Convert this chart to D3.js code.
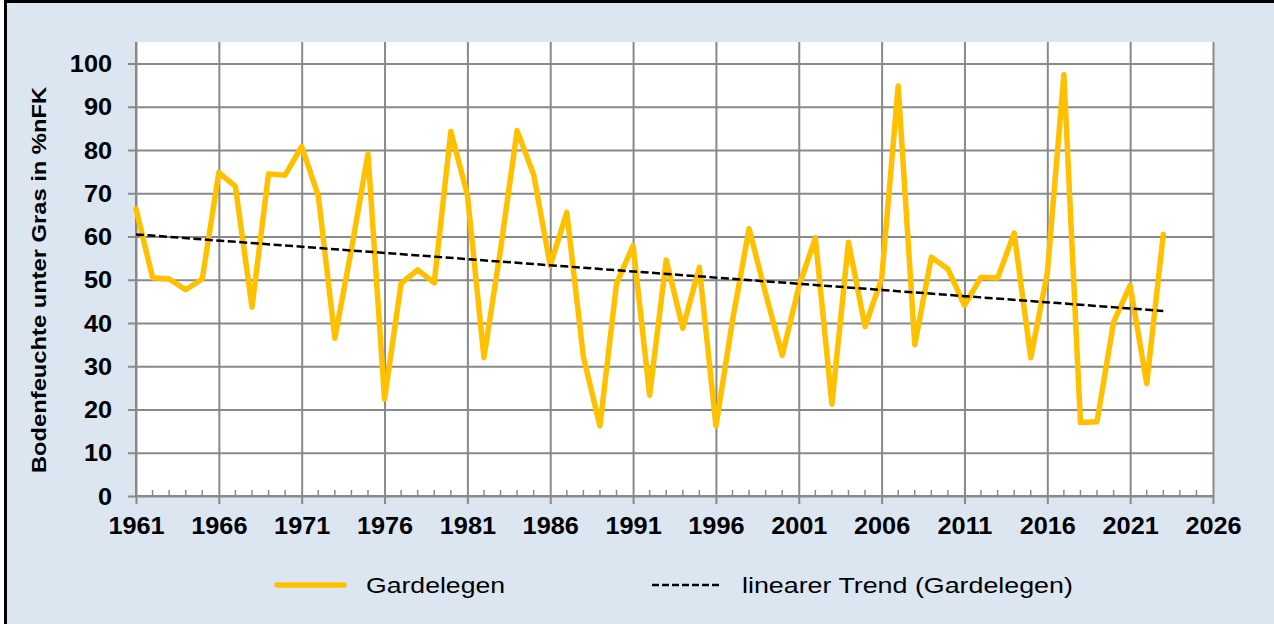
<!DOCTYPE html>
<html>
<head>
<meta charset="utf-8">
<script src="https://cdn.jsdelivr.net/npm/d3@7"></script>
<style>
  html, body { margin: 0; padding: 0; background: #ffffff; }
  svg { display: block; font-family: "Liberation Sans", Arial, sans-serif; }
</style>
</head>
<body>
<div id="chart"></div>
<script>
// data
var years = [1961, 1962, 1963, 1964, 1965, 1966, 1967, 1968, 1969, 1970,
  1971, 1972, 1973, 1974, 1975, 1976, 1977, 1978, 1979, 1980,
  1981, 1982, 1983, 1984, 1985, 1986, 1987, 1988, 1989, 1990,
  1991, 1992, 1993, 1994, 1995, 1996, 1997, 1998, 1999, 2000,
  2001, 2002, 2003, 2004, 2005, 2006, 2007, 2008, 2009, 2010,
  2011, 2012, 2013, 2014, 2015, 2016, 2017, 2018, 2019, 2020,
  2021, 2022, 2023];
var gardelegen = [66.4, 50.5, 50.2, 47.7, 50.2, 74.8, 71.6, 43.7, 74.5, 74.2,
  80.8, 69.5, 36.5, 57.0, 79.1, 22.4, 49.2, 52.3, 49.3, 84.3,
  69.7, 32.0, 57.0, 84.5, 74.3, 53.3, 65.6, 32.2, 16.2, 49.1,
  57.9, 23.3, 54.6, 38.8, 52.9, 16.2, 40.6, 61.8, 46.8, 32.5,
  48.3, 59.7, 21.2, 58.7, 39.2, 50.2, 94.8, 35.0, 55.2, 52.5,
  44.1, 50.6, 50.4, 60.8, 32.0, 51.5, 97.5, 17.0, 17.2, 40.2,
  48.7, 26.0, 60.5];
var trendYears = [1961, 2023];
var trendValues = [60.5, 42.8];
var xTicks = [1961, 1966, 1971, 1976, 1981, 1986, 1991, 1996, 2001, 2006, 2011, 2016, 2021, 2026];
var yTicks = [0, 10, 20, 30, 40, 50, 60, 70, 80, 90, 100];
var seriesNames = ["Gardelegen", "linearer Trend (Gardelegen)"];
var yTitle = "Bodenfeuchte unter Gras in %nFK";

var W = 1274, H = 624;
var pLeft = 136, pRight = 1213, pTop = 42, pBottom = 496;
var gridColor = "#898989", lineColor = "#FFC000";

var svg = d3.select("#chart").append("svg").attr("width", W).attr("height", H);
svg.append("rect").attr("x", 0).attr("y", 0).attr("width", W).attr("height", H).attr("fill", "#ffffff");
svg.append("rect").attr("x", 5.5).attr("y", 1.5).attr("width", W + 10).attr("height", H + 10)
  .attr("fill", "#DCE6F1").attr("stroke", "#000000").attr("stroke-width", 3);

var x = d3.scaleLinear().domain([1961, 2026]).range([pLeft, pRight]);
var y = d3.scaleLinear().domain([0, 105]).range([pBottom, pTop]);

svg.append("rect").attr("x", pLeft).attr("y", pTop).attr("width", pRight - pLeft).attr("height", pBottom - pTop)
  .attr("fill", "#ffffff");

// horizontal grid lines + y labels
var yAxis = svg.append("g").attr("transform", "translate(" + pLeft + ",0)")
  .call(d3.axisLeft(y).tickValues(yTicks).tickSize(-(pRight - pLeft)).tickSizeOuter(0).tickPadding(0));
yAxis.select(".domain").remove();
yAxis.selectAll(".tick line").attr("x1", -8).attr("stroke", gridColor).attr("stroke-width", 2);
yAxis.selectAll(".tick text").attr("x", -21.8).attr("dy", "0.35em")
  .attr("transform", "scale(1.1,1)").style("font-size", "23px").style("font-weight", "bold")
  .attr("fill", "#000000");

// vertical grid lines + x labels
var xAxis = svg.append("g").attr("transform", "translate(0," + pBottom + ")")
  .call(d3.axisBottom(x).tickValues(xTicks).tickFormat(d3.format("d")).tickSize(-(pBottom - pTop)).tickSizeOuter(0));
xAxis.select(".domain").remove();
xAxis.selectAll(".tick line").attr("y1", 8).attr("stroke", gridColor).attr("stroke-width", 2);
xAxis.selectAll(".tick text").attr("y", 22).attr("dy", "0.71em")
  .attr("transform", "scale(1.1,1)").style("font-size", "23px").style("font-weight", "bold")
  .attr("fill", "#000000");

// minor year ticks on the x axis
var minor = d3.range(1961, 2027).filter(function(d) { return xTicks.indexOf(d) < 0; });
svg.append("g").selectAll("line").data(minor).enter().append("line")
  .attr("x1", function(d) { return x(d); }).attr("x2", function(d) { return x(d); })
  .attr("y1", pBottom).attr("y2", pBottom - 6).attr("stroke", gridColor).attr("stroke-width", 1.5);

// axis lines
svg.append("line").attr("x1", pLeft).attr("x2", pRight).attr("y1", pBottom).attr("y2", pBottom)
  .attr("stroke", gridColor).attr("stroke-width", 2);
svg.append("line").attr("x1", pLeft).attr("x2", pLeft).attr("y1", pTop).attr("y2", pBottom)
  .attr("stroke", gridColor).attr("stroke-width", 2);

// data line
var line = d3.line().x(function(d, i) { return x(years[i]); }).y(function(d) { return y(d); });
svg.append("path").datum(gardelegen).attr("d", line).attr("fill", "none")
  .attr("stroke", lineColor).attr("stroke-width", 5.5).attr("stroke-linejoin", "round").attr("stroke-linecap", "round");

// trend line
var tline = d3.line().x(function(d, i) { return x(trendYears[i]); }).y(function(d) { return y(d); });
svg.append("path").datum(trendValues).attr("d", tline).attr("fill", "none")
  .attr("stroke", "#000000").attr("stroke-width", 2.5).attr("stroke-dasharray", "8,3.5");

// y title
svg.append("text").attr("transform", "translate(46,280) rotate(-90) scale(1.13,1)")
  .attr("text-anchor", "middle").style("font-size", "21px").style("font-weight", "bold").text(yTitle);

// legend
var legY = 585;
svg.append("line").attr("x1", 277).attr("x2", 344).attr("y1", legY).attr("y2", legY)
  .attr("stroke", lineColor).attr("stroke-width", 5.5).attr("stroke-linecap", "round");
svg.append("text").attr("transform", "translate(366," + (legY + 8) + ") scale(1.21,1)")
  .style("font-size", "22px").text(seriesNames[0]);
svg.append("line").attr("x1", 652).attr("x2", 721).attr("y1", legY).attr("y2", legY)
  .attr("stroke", "#000000").attr("stroke-width", 2.5).attr("stroke-dasharray", "7,3");
svg.append("text").attr("transform", "translate(742," + (legY + 8) + ") scale(1.22,1)")
  .style("font-size", "22px").text(seriesNames[1]);
</script>
</body>
</html>
